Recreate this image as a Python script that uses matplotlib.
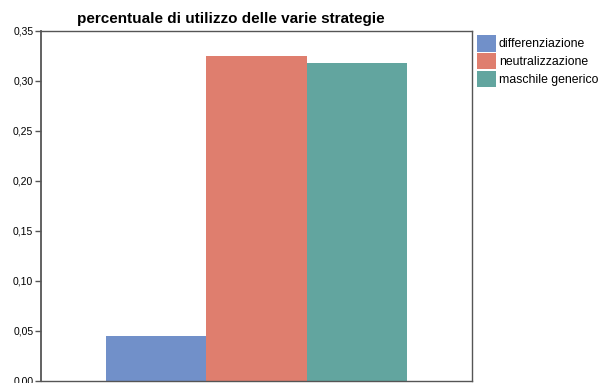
import matplotlib.pyplot as plt
from matplotlib.patches import Patch
from matplotlib.ticker import FuncFormatter

strategie = ['differenziazione', 'neutralizzazione', 'maschile generico']
percentuali = [0.045, 0.325, 0.318]
colori = ['#7190c9', '#df7e6e', '#62a59f']

plt.rcParams['font.family'] = ['Liberation Sans', 'DejaVu Sans']

fig = plt.figure(figsize=(6.01, 3.83), dpi=100)
ax = fig.add_axes([41 / 601, 2 / 383, 431 / 601, 350 / 383])

largh = 1.0
for i, (nome, val, col) in enumerate(zip(strategie, percentuali, colori)):
    ax.bar((i - 1) * largh, val, width=largh, color=col, align='center', label=nome)

ax.set_xlim(-1.5 - 0.65, 1.5 + 0.65)
ax.set_ylim(0, 0.35)
ax.set_yticks([0, 0.05, 0.10, 0.15, 0.20, 0.25, 0.30, 0.35])
ax.yaxis.set_major_formatter(FuncFormatter(lambda v, p: f'{v:.2f}'.replace('.', ',')))
ax.set_xticks([])
ax.tick_params(axis='y', labelsize=7.5, length=4, width=1, color='#555555', pad=1.5)
for s in ax.spines.values():
    s.set_color('#555555')
    s.set_linewidth(1)
ax.spines['left'].set_linewidth(1.3)

fig.text(231 / 601, 1 - 19 / 383, 'percentuale di utilizzo delle varie strategie',
         ha='center', va='center', fontsize=11, fontweight='bold')

maniglie = [Patch(facecolor=c, edgecolor='none') for c in colori]
fig.legend(maniglie, strategie, loc='upper left', bbox_to_anchor=(475 / 601, 1 - 33 / 383),
           frameon=False, fontsize=8.8, handlelength=1.5, handleheight=1.65,
           handletextpad=0.25, labelspacing=0.12, borderpad=0.2, borderaxespad=0)

fig.savefig('out.png', dpi=100)
